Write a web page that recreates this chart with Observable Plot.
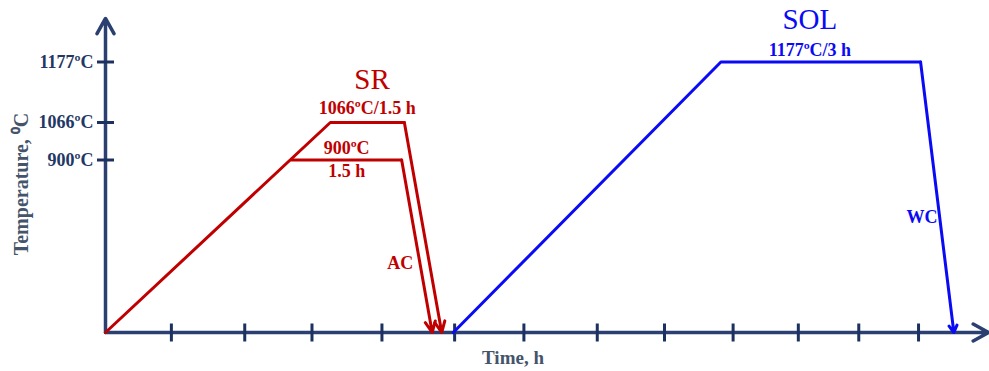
<!DOCTYPE html>
<html>
<head>
<meta charset="utf-8">
<script src="https://cdn.jsdelivr.net/npm/d3@7"></script>
<script src="https://cdn.jsdelivr.net/npm/@observablehq/plot@0.6"></script>
<style>
  html, body { margin: 0; padding: 0; background: #fff; }
  #chart svg { display: block; }
</style>
</head>
<body>
<div id="chart"></div>
<script>
// ---- data (schematic heat-treatment cycles) ----
const srTime      = [0, 3.31, 4.40, 4.95];     // h
const srTemp      = [0, 1066, 1066, 0];        // °C
const sr900Time   = [2.74, 4.36, 4.81];
const sr900Temp   = [900, 900, 0];
const solTime     = [5.12, 9.06, 12.0, 12.49];
const solTemp     = [0, 1177, 1177, 0];
const timeTicks   = [0.97, 2.05, 3.04, 4.07, 5.14, 6.16, 7.24, 8.23, 9.24, 10.2, 11.09, 11.97];
const tempTicks   = [900, 1066, 1177];
const tempTickLabels = ["900ºC", "1066ºC", "1177ºC"];
const timeAxisMax = 13.0;
const tempAxisMax = 1257;
const srLabel = "SR", srHold = "1066ºC/1.5 h", sr900Label1 = "900ºC", sr900Label2 = "1.5 h";
const acLabel = "AC", solLabel = "SOL", solHold = "1177ºC/3 h", wcLabel = "WC";
const xTitle = "Time, h", yTitle = "Temperature, ⁰C";

// ---- helpers ----
const pts = (xs, ys) => xs.map((x, i) => ({x, y: ys[i]}));
const lastSeg = (xs, ys) => [{x1: xs[xs.length - 2], y1: ys[ys.length - 2], x2: xs[xs.length - 1], y2: ys[ys.length - 1]}];
const srPts = pts(srTime, srTemp), sr900Pts = pts(sr900Time, sr900Temp), solPts = pts(solTime, solTemp);

// the temperature axis of the schematic is not linear: piecewise mapping of the ticks
const schematicHeight = d3.scaleLinear().domain([0, 900, 1066, 1177]).range([0, 172.5, 210, 270.5]);

const vTick = {draw(ctx, size) { const r = Math.sqrt(size / Math.PI); ctx.moveTo(0, -r); ctx.lineTo(0, r); }};
const hTick = {draw(ctx, size) { const r = Math.sqrt(size / Math.PI); ctx.moveTo(-r, 0); ctx.lineTo(r, 0); }};

const AXIS = "#2b4070", TICK = "#1c3160", LABEL = "#1f3864", TITLE = "#44546a";
const RED = "#c00000", BLUE = "#0a0af5";
const FONT = "Liberation Serif, Times New Roman, serif";

const yTickData = tempTicks.map((t, i) => ({t, label: tempTickLabels[i]}));
const holdMid = (xs, i) => (xs[i] + xs[i + 1]) / 2;

const plot = Plot.plot({
  width: 989,
  height: 371,
  marginTop: 0, marginRight: 0, marginBottom: 0, marginLeft: 0,
  style: {fontFamily: FONT, background: "#fff"},
  x: {domain: [0, timeAxisMax], range: [105, 988], axis: null},
  y: {transform: schematicHeight, domain: [0, 332], range: [332, 0], axis: null},
  marks: [
    // axes
    Plot.arrow([{x1: 0, y1: 0, x2: 0, y2: tempAxisMax}], {x1: "x1", y1: "y1", x2: "x2", y2: "y2", stroke: AXIS, strokeWidth: 3.5, headLength: 7.5, headAngle: 58}),
    Plot.arrow([{x1: 0, y1: 0, x2: timeAxisMax, y2: 0}], {x1: "x1", y1: "y1", x2: "x2", y2: "y2", stroke: AXIS, strokeWidth: 3.5, headLength: 7.5, headAngle: 58}),
    Plot.dot(timeTicks, {x: d => d, y: 0, symbol: vTick, r: 9, stroke: TICK, strokeWidth: 3, fill: "none"}),
    Plot.dot(yTickData, {x: 0, y: "t", symbol: hTick, r: 8.5, stroke: TICK, strokeWidth: 3, fill: "none"}),
    Plot.text(yTickData, {x: 0, y: "t", text: "label", textAnchor: "end", dx: -12, fill: LABEL, fontSize: 18, fontWeight: "bold"}),
    Plot.text([yTitle], {frameAnchor: "left", textAnchor: "middle", rotate: -90, dx: 21, dy: -2, fill: TITLE, fontSize: 20, fontWeight: "bold"}),
    Plot.text([xTitle], {frameAnchor: "bottom", dx: 18, dy: -8, lineAnchor: "bottom", fill: TITLE, fontSize: 19, fontWeight: "bold"}),

    // SR cycles
    Plot.line(srPts.slice(0, -1), {x: "x", y: "y", stroke: RED, strokeWidth: 3}),
    Plot.arrow(lastSeg(srTime, srTemp), {x1: "x1", y1: "y1", x2: "x2", y2: "y2", stroke: RED, strokeWidth: 3, headLength: 6, headAngle: 50}),
    Plot.line(sr900Pts.slice(0, -1), {x: "x", y: "y", stroke: RED, strokeWidth: 3}),
    Plot.arrow(lastSeg(sr900Time, sr900Temp), {x1: "x1", y1: "y1", x2: "x2", y2: "y2", stroke: RED, strokeWidth: 3, headLength: 6, headAngle: 50}),

    // SOL cycle
    Plot.line(solPts.slice(0, -1), {x: "x", y: "y", stroke: BLUE, strokeWidth: 3}),
    Plot.arrow(lastSeg(solTime, solTemp), {x1: "x1", y1: "y1", x2: "x2", y2: "y2", stroke: BLUE, strokeWidth: 3, headLength: 4, headAngle: 60}),

    // annotations
    Plot.text([srLabel], {x: holdMid(srTime, 1) + 0.07, y: srTemp[1], dy: -33.5, lineAnchor: "bottom", fill: RED, fontSize: 29}),
    Plot.text([srHold], {x: holdMid(srTime, 1), y: srTemp[1], dy: -9, lineAnchor: "bottom", fill: RED, fontSize: 18, fontWeight: "bold"}),
    Plot.text([sr900Label1], {x: holdMid(sr900Time, 0), y: sr900Temp[0], dy: -6, lineAnchor: "bottom", fill: RED, fontSize: 18, fontWeight: "bold"}),
    Plot.text([sr900Label2], {x: holdMid(sr900Time, 0), y: sr900Temp[0], dy: 17, lineAnchor: "bottom", fill: RED, fontSize: 18, fontWeight: "bold"}),
    Plot.text([acLabel], {x: srTime[2] - 0.06, y: 0, dy: -64, lineAnchor: "bottom", fill: RED, fontSize: 18, fontWeight: "bold"}),
    Plot.text([solLabel], {x: holdMid(solTime, 1) - 0.16, y: solTemp[1], dy: -33.5, lineAnchor: "bottom", fill: BLUE, fontSize: 29}),
    Plot.text([solHold], {x: holdMid(solTime, 1) - 0.16, y: solTemp[1], dy: -6.5, lineAnchor: "bottom", fill: BLUE, fontSize: 18, fontWeight: "bold"}),
    Plot.text([wcLabel], {x: solTime[2] + 0.02, y: 0, dy: -110, lineAnchor: "bottom", fill: BLUE, fontSize: 18, fontWeight: "bold"})
  ]
});
document.getElementById("chart").appendChild(plot);
</script>
</body>
</html>
